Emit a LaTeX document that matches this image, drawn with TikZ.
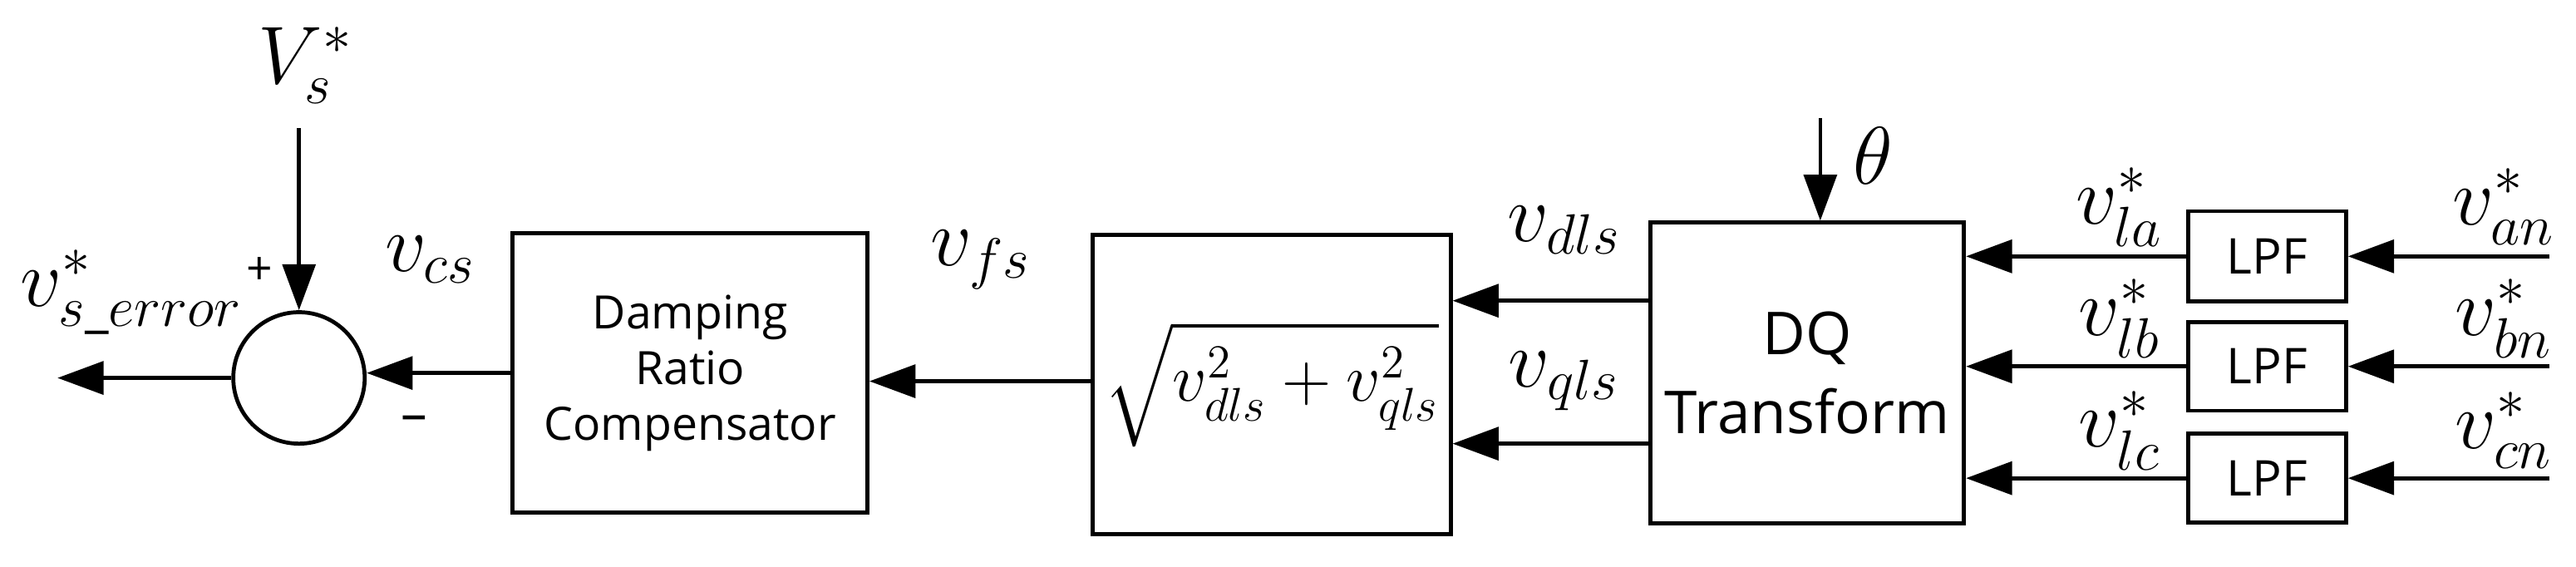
\documentclass[tikz,border=0pt]{standalone}
\usepackage{fontspec}
\setmainfont{Open Sans}
\usepackage{amsmath}
\usetikzlibrary{arrows.meta}
\begin{document}
\begin{tikzpicture}[x=0.5pt,y=-0.5pt,
 blk/.style={draw,line width=1.2pt,inner sep=0pt},
 ar/.style={line width=1.2pt,-{Triangle[length=14pt,width=10pt]}},
 lab/.style={font=\fontsize{26}{28}\selectfont},
 sl/.style={font=\fontsize{23}{25}\selectfont},
 txt/.style={font=\fontsize{14}{17}\selectfont,align=center}]
\useasboundingbox (0,0) rectangle (1568,345);
\node[blk,circle,minimum size=40pt] (sum) at (182,230) {};
\node[blk,txt,minimum width=108pt,minimum height=85pt] (damp) at (420,227) {Damping\\Ratio\\Compensator};
\node[blk,minimum width=109pt,minimum height=91pt] (sq) at (774,234) {\fontsize{20}{22}\selectfont$\sqrt{v_{dls}^2+v_{qls}^2}$};
\node[blk,txt,font=\fontsize{18}{24}\selectfont,minimum width=95.5pt,minimum height=91.5pt] (dq) at (1100,227) {DQ\\Transform};
\node[blk,txt,font=\fontsize{15}{17}\selectfont,minimum width=48pt,minimum height=27.5pt] (l1) at (1380,156) {LPF};
\node[blk,txt,font=\fontsize{15}{17}\selectfont,minimum width=48pt,minimum height=27pt] (l2) at (1380,223) {LPF};
\node[blk,txt,font=\fontsize{15}{17}\selectfont,minimum width=48pt,minimum height=27pt] (l3) at (1380,291) {LPF};
\coordinate (out) at (35,230);
\coordinate (vs) at (182,78);
\coordinate (th) at (1108,72);
\coordinate (i1) at (1552,156);
\coordinate (i2) at (1552,223);
\coordinate (i3) at (1552,291);
\draw[ar] (sum.west) -- (out);
\draw[ar] (vs) -- (sum.north);
\draw[ar] (damp.west |- 0,227) -- (sum.east |- 0,227);
\draw[ar] (sq.west |- 0,232) -- (damp.east |- 0,232);
\draw[ar] (dq.west |- 0,183) -- (sq.east |- 0,183);
\draw[ar] (dq.west |- 0,270) -- (sq.east |- 0,270);
\draw[ar] (l1.west) -- (dq.east |- l1.west);
\draw[ar] (l2.west) -- (dq.east |- l2.west);
\draw[ar] (l3.west) -- (dq.east |- l3.west);
\draw[ar] (i1) -- (l1.east);
\draw[ar] (i2) -- (l2.east);
\draw[ar] (i3) -- (l3.east);
\draw[ar] (th) -- (dq.north -| th);
\node[lab] (t1) at (186,40) {$V_s^*$};
\node[sl] (t2) at (80,178) {$v_{s\_error}^*$};
\node[font=\fontsize{14}{16}\selectfont] (t3) at (158,165) {+};
\node[font=\fontsize{16}{16}\selectfont] (t4) at (252,258) {--};
\node[lab] (t5) at (262,158) {$v_{cs}$};
\node[lab] (t6) at (597,158) {$v_{fs}$};
\node[lab] (t7) at (952,140) {$v_{dls}$};
\node[lab] (t8) at (952,232) {$v_{qls}$};
\node[lab] (t9) at (1140,95) {$\theta$};
\node[sl] (a1) at (1290,126) {$v_{la}^*$};
\node[sl] (a2) at (1290,194) {$v_{lb}^*$};
\node[sl] (a3) at (1290,262) {$v_{lc}^*$};
\node[sl] (b1) at (1524,126) {$v_{an}^*$};
\node[sl] (b2) at (1524,194) {$v_{bn}^*$};
\node[sl] (b3) at (1524,262) {$v_{cn}^*$};
\end{tikzpicture}
\end{document}
